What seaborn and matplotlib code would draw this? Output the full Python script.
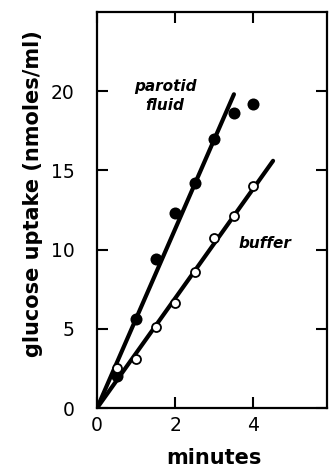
import matplotlib
matplotlib.use("Agg")
import matplotlib.pyplot as plt
import seaborn as sns
import pandas as pd

# Glucose uptake over time
minutes = [0.5, 1.0, 1.5, 2.0, 2.5, 3.0, 3.5, 4.0]
parotid_uptake = [2.0, 5.6, 9.4, 12.3, 14.2, 17.0, 18.6, 19.2]
buffer_uptake = [2.5, 3.1, 5.1, 6.6, 8.6, 10.7, 12.1, 14.0]

# Fitted lines through the origin (start and end points)
parotid_fit_x = [0.0, 3.5]
parotid_fit_y = [0.0, 19.8]
buffer_fit_x = [0.0, 4.5]
buffer_fit_y = [0.0, 15.6]

x_ticks = [0, 2, 4]
y_ticks = [0, 5, 10, 15, 20]

sns.set_theme(style="ticks")
plt.rcParams["font.family"] = ["DejaVu Sans"]
plt.rcParams["text.color"] = "black"
plt.rcParams["axes.labelcolor"] = "black"

fig = plt.figure(figsize=(3.29, 4.75), dpi=100)
ax = fig.add_axes([0.295, 0.141, 0.699, 0.834])

pts = pd.DataFrame({"t": minutes, "parotid": parotid_uptake, "buffer": buffer_uptake})
fit_p = pd.DataFrame({"t": parotid_fit_x, "y": parotid_fit_y})
fit_b = pd.DataFrame({"t": buffer_fit_x, "y": buffer_fit_y})

sns.lineplot(data=fit_p, x="t", y="y", ax=ax, color="black", linewidth=3.0, zorder=2)
sns.lineplot(data=fit_b, x="t", y="y", ax=ax, color="black", linewidth=3.0, zorder=2)
sns.scatterplot(data=pts, x="t", y="parotid", ax=ax, color="black", s=75,
                edgecolor="black", linewidth=0, zorder=3)
sns.scatterplot(data=pts, x="t", y="buffer", ax=ax, color="white", s=42,
                edgecolor="black", linewidth=1.3, zorder=4)

ax.set_xlim(0, 5.88)
ax.set_ylim(0, 25)
ax.set_xticks(x_ticks)
ax.set_yticks(y_ticks)
ax.set_xticklabels([str(v) for v in x_ticks])
ax.set_yticklabels([str(v) for v in y_ticks])
ax.tick_params(direction="in", length=8, width=1.5, colors="black",
               labelcolor="black", labelsize=13.5, top=True, right=True, pad=6)
ax.tick_params(axis="y", pad=16)
for s in ax.spines.values():
    s.set_linewidth(1.6)
    s.set_color("black")

ax.set_xlabel("minutes", fontsize=15, fontweight="bold", color="black")
ax.xaxis.set_label_coords(0.51, -0.1)
ax.set_ylabel("glucose uptake (nmoles/ml)", fontsize=15, fontweight="bold", color="black")
ax.yaxis.set_label_coords(-0.235, 0.54)

label_style = dict(fontsize=11, fontweight="bold", style="italic",
                   ha="center", va="center", color="black")
ax.text(1.76, 20.3, "parotid", **label_style)
ax.text(1.73, 19.1, "fluid", **label_style)
ax.text(4.3, 10.4, "buffer", **label_style)

fig.savefig("out.png", dpi=100)
